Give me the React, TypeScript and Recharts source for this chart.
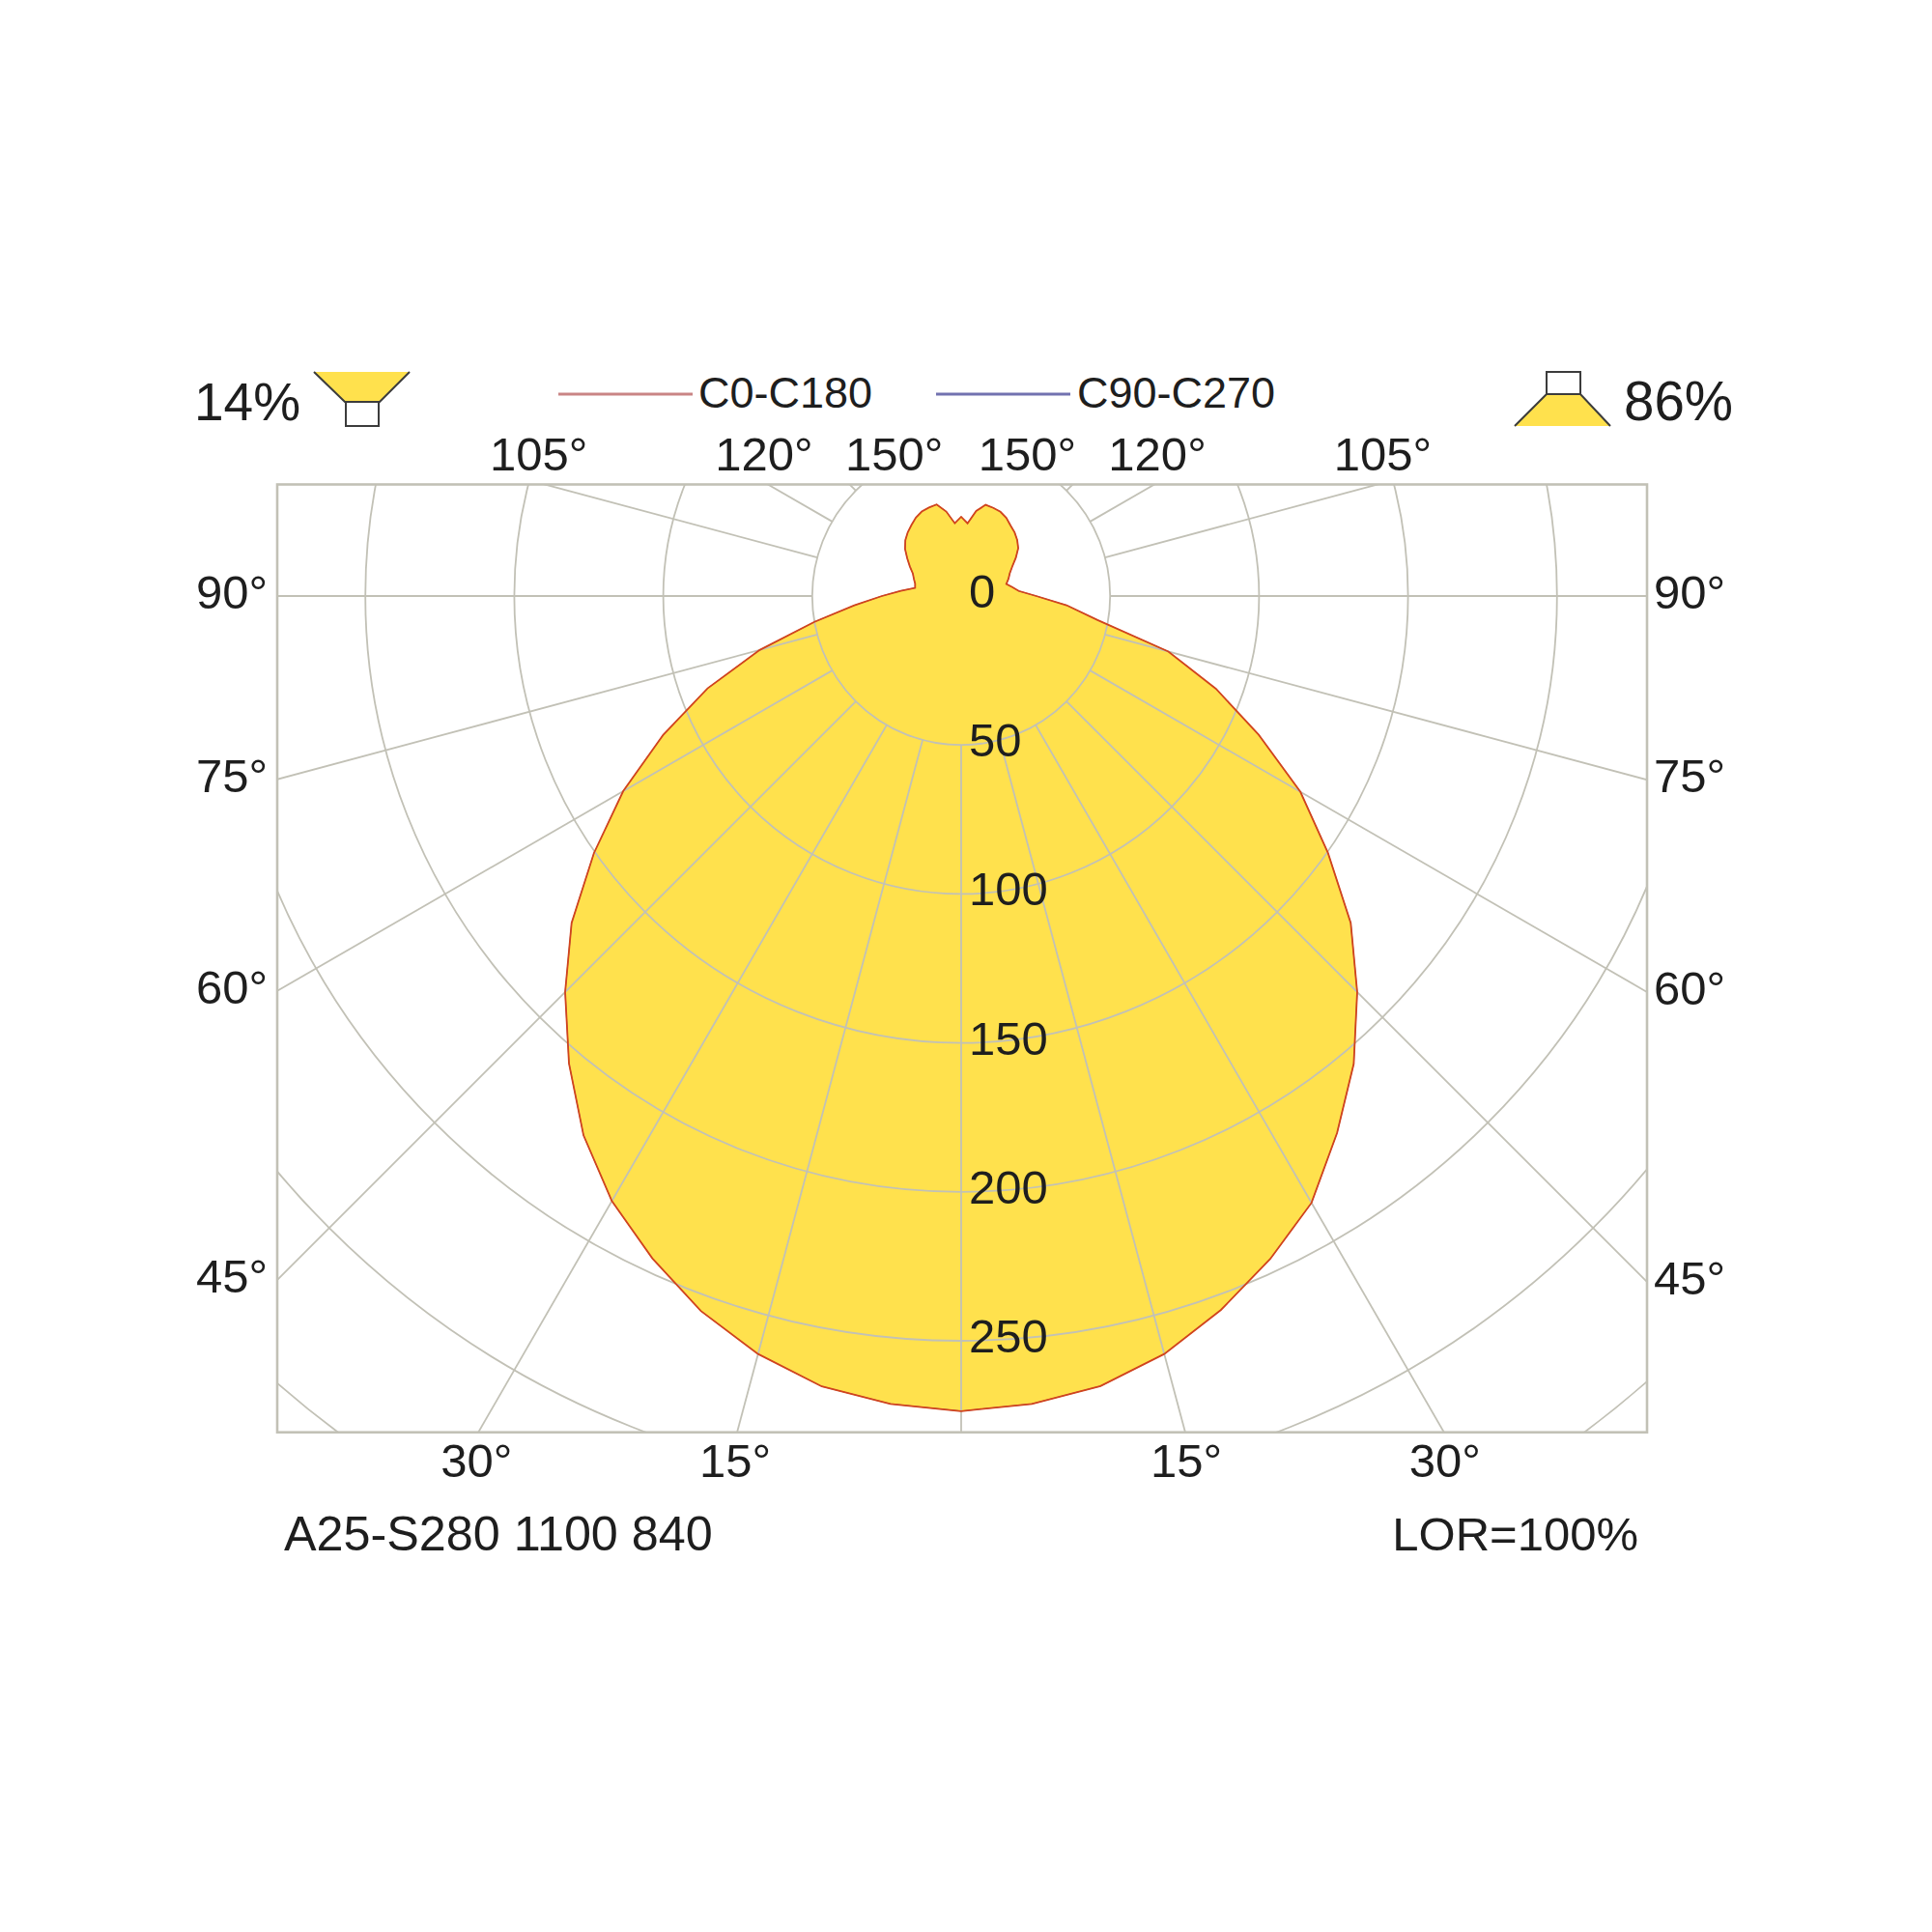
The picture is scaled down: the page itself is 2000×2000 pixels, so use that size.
import React from 'react';
import { RadarChart, Radar, PolarGrid, PolarAngleAxis, PolarRadiusAxis } from 'recharts';

// candela readings every 5 degrees, gamma 0 (down) to 180 (up)
const gammas = [0, 5, 10, 15, 20, 25, 30, 35, 40, 45, 50, 55, 60, 65, 70, 75, 80, 85, 90, 95, 100, 105, 110, 115, 120, 125, 130, 135, 140, 145, 150, 155, 160, 165, 170, 175, 180];
const leftSide = [273.6, 272.2, 269.4, 263.4, 255.4, 245.3, 234.5, 221, 204.8, 188, 170.7, 150.5, 131, 110.4, 90.6, 70, 50, 36, 26.6, 20.3, 15.7, 16, 16.9, 17.9, 19.9, 22.1, 24.6, 26.5, 27.9, 29.1, 30.4, 31.3, 31.6, 31.8, 28.8, 24.5, 26.6];
const rightSide = [273.6, 272.2, 269.3, 263.4, 255, 245.5, 235.2, 220, 205, 188, 170.7, 150.3, 131.5, 110.2, 91, 72, 46.5, 35.5, 25.2, 19.4, 17.4, 15.7, 16.9, 18, 19.8, 22.4, 25, 26.6, 27.9, 28.9, 30.3, 31.2, 31.5, 31.7, 29, 24.5, 26.6];

const angleTicks = [0, 15, 30, 45, 60, 75, 90, 105, 120, 135, 150, 165, 180, 195, 210, 225, 240, 255, 270, 285, 300, 315, 330, 345];
const labelledAngles = [15, 30, 45, 60, 75, 90, 105, 120, 150];
const radiusTicks = [0, 50, 100, 150, 200, 250, 300, 350, 400];
const labelledRadii = [0, 50, 100, 150, 200, 250];

const seriesNames = ['C0-C180', 'C90-C270'];
const legendColors = ['#c98585', '#7272b0'];

const FONT = '"Liberation Sans", Arial, sans-serif';
const TEXT = '#1e1e1e';
const GRID = '#c2c1b6';
const YELLOW = '#ffe14d';
const ICON = '#3c3c3c';
const CX = 995;
const CY = 617;
const LEFT = 287;
const RIGHT = 1705;
const TOP = 501.5;
const BOTTOM = 1482.7;

const rows = [
  ...gammas.map((g, i) => ({ angle: g, c0: leftSide[i], c90: leftSide[i] })),
  ...gammas.slice(1, -1).reverse().map((g) => {
    const i = gammas.indexOf(g);
    return { angle: 360 - g, c0: rightSide[i], c90: rightSide[i] };
  }),
];

const AngleTick = (props: any) => {
  const angle = props.payload.value;
  const gamma = angle > 180 ? 360 - angle : angle;
  if (!labelledAngles.includes(gamma)) return null;
  const rad = (angle * Math.PI) / 180;
  const dx = -Math.sin(rad);
  const dy = Math.cos(rad);
  const tx = Math.abs(dx) < 1e-6 ? Infinity : ((dx < 0 ? LEFT : RIGHT) - CX) / dx;
  const ty = Math.abs(dy) < 1e-6 ? Infinity : ((dy > 0 ? BOTTOM : TOP) - CY) / dy;
  const base = { fontFamily: FONT, fontSize: 49, fill: TEXT, dominantBaseline: 'central' as const };
  if (tx < ty) {
    const y = CY + dy * tx - 4;
    return dx < 0
      ? <text x={LEFT - 10} y={y} textAnchor="end" {...base}>{gamma}°</text>
      : <text x={RIGHT + 7} y={y} textAnchor="start" {...base}>{gamma}°</text>;
  }
  const nudge = dx < 0 ? -2 : 1;
  // top row sits a touch wider than the spokes
  const x = CX + dx * ty * (dy > 0 ? 1 : 1.01) + nudge;
  return <text x={x} y={dy > 0 ? BOTTOM + 29 : TOP - 32} textAnchor="middle" {...base}>{gamma}°</text>;
};

const RadiusTick = (props: any) => {
  if (!labelledRadii.includes(props.payload.value)) return null;
  return (
    <text x={props.x + 8} y={props.y - 5} textAnchor="start" dominantBaseline="central" fontFamily={FONT} fontSize={49} fill={TEXT}>
      {props.payload.value}
    </text>
  );
};

export default function App() {
  return (
    <div style={{ position: 'absolute', left: 0, top: 0, width: 2000, height: 2000, background: '#fff' }}>
      <RadarChart
        width={2000}
        height={2000}
        data={rows}
        cx={CX}
        cy={CY}
        innerRadius={154.2}
        outerRadius={1233.6}
        startAngle={-90}
        endAngle={-450}
        margin={{ top: 0, right: 0, bottom: 0, left: 0 }}
      >
        <defs>
          <clipPath id="frame">
            <rect x={LEFT} y={TOP} width={RIGHT - LEFT} height={BOTTOM - TOP} />
          </clipPath>
        </defs>
        <PolarAngleAxis
          dataKey="angle"
          type="number"
          domain={[0, 360]}
          ticks={angleTicks as any}
          axisLine={false}
          tickLine={false}
          tick={AngleTick}
        />
        <PolarRadiusAxis
          angle={-90}
          type="number"
          domain={[50, 400]}
          allowDataOverflow
          ticks={radiusTicks as any}
          axisLine={false}
          tickLine={false}
          tick={RadiusTick}
        />
        <Radar
          dataKey="c90"
          name={seriesNames[1]}
          stroke="#5f5fa8"
          strokeWidth={1}
          fill={YELLOW}
          fillOpacity={1}
          dot={false}
          activeDot={false}
          isAnimationActive={false}
          zIndex={100}
        />
        <PolarGrid gridType="circle" stroke={GRID} strokeWidth={1.8} clipPath="url(#frame)" zIndex={200} />
        <Radar
          dataKey="c0"
          name={seriesNames[0]}
          stroke="#d2441c"
          strokeWidth={1.8}
          fill="none"
          dot={false}
          activeDot={false}
          isAnimationActive={false}
          zIndex={300}
        />
        <rect x={LEFT} y={TOP} width={RIGHT - LEFT} height={BOTTOM - TOP} fill="none" stroke={GRID} strokeWidth={2.6} />

        <line x1={578} y1={408} x2={717} y2={408} stroke={legendColors[0]} strokeWidth={3} />
        <text x={723} y={406} dominantBaseline="central" fontFamily={FONT} fontSize={45} fill={TEXT}>{seriesNames[0]}</text>
        <line x1={969} y1={408} x2={1108} y2={408} stroke={legendColors[1]} strokeWidth={3} />
        <text x={1115} y={406} dominantBaseline="central" fontFamily={FONT} fontSize={45} fill={TEXT}>{seriesNames[1]}</text>

        <text x={201} y={435} fontFamily={FONT} fontSize={55} fill={TEXT}>14%</text>
        <polygon points="325,385 424,385 393,416 357,416" fill={YELLOW} />
        <polyline points="325,385 357,416 393,416 424,385" fill="none" stroke={ICON} strokeWidth={2} />
        <rect x={358} y={416} width={34} height={25} fill="#fff" stroke={ICON} strokeWidth={2} />

        <text x={1681} y={435} fontFamily={FONT} fontSize={56.5} fill={TEXT}>86%</text>
        <rect x={1601} y={385} width={35} height={23} fill="#fff" stroke={ICON} strokeWidth={2} />
        <polygon points="1601,408 1636,408 1667,441 1568,441" fill={YELLOW} />
        <polyline points="1568,441 1601,408 1636,408 1667,441" fill="none" stroke={ICON} strokeWidth={2} />

        <text x={294} y={1605} fontFamily={FONT} fontSize={50.3} fill={TEXT}>A25-S280 1100 840</text>
        <text x={1696} y={1605} textAnchor="end" fontFamily={FONT} fontSize={49} fill={TEXT}>LOR=100%</text>
      </RadarChart>
    </div>
  );
}
